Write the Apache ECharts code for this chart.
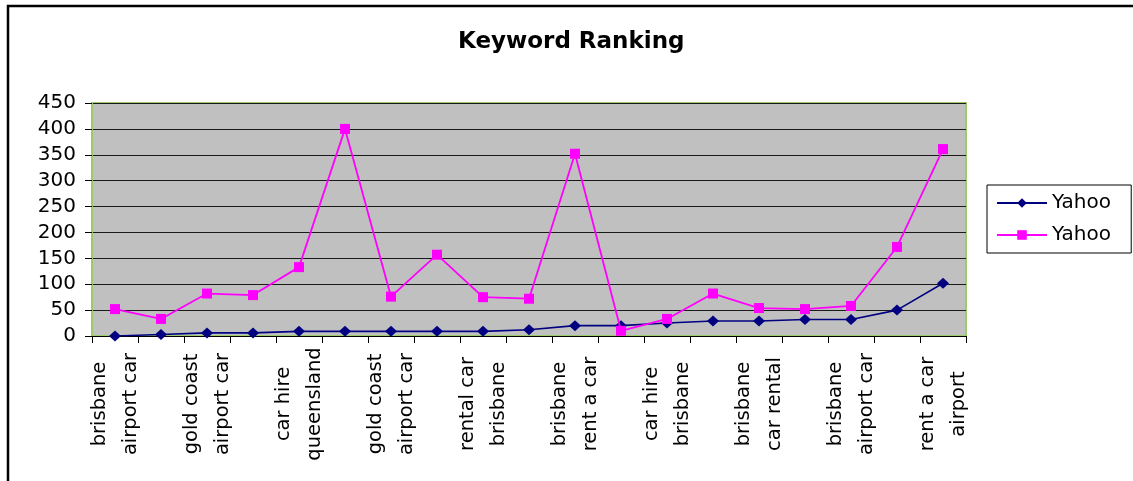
<!DOCTYPE html>
<html>
<head>
<meta charset="utf-8">
<title>Keyword Ranking</title>
<script src="https://cdn.jsdelivr.net/npm/echarts@6/dist/echarts.min.js"></script>
<style>
  html, body { margin: 0; padding: 0; background: #fff; }
  #chart { width: 1133px; height: 481px; }
</style>
</head>
<body>
<div id="chart"></div>
<script>
// keywords (only every other one is printed on the axis)
var keywords = [
  "brisbane\nairport car", "car rental\nairport", "gold coast\nairport car", "car hire\nbrisbane airport",
  "car hire\nqueensland", "hire car\nbrisbane", "gold coast\nairport car", "car hire\ngold coast",
  "rental car\nbrisbane", "car rental\nqueensland", "brisbane\nrent a car", "hire car\nairport",
  "car hire\nbrisbane", "rental cars\nbrisbane", "brisbane\ncar rental", "car hire\nairport",
  "brisbane\nairport car", "airport\ncar rental", "rent a car\nairport"
];
var seriesNames = ["Yahoo", "Yahoo "];
var yahooA = [0, 3, 6, 6, 9, 9, 9, 9, 9, 12, 20, 20, 25, 29, 29, 32, 32, 50, 102];
var yahooB = [52, 33, 82, 79, 133, 400, 76, 157, 75, 72, 352, 10, 33, 82, 54, 52, 58, 172, 361];
var yTicks = { min: 0, max: 450, step: 50 };

var chart = echarts.init(document.getElementById("chart"));
var font = "DejaVu Sans";

var option = {
  animation: false,
  backgroundColor: "#fff",
  title: {
    text: "Keyword Ranking",
    left: 453,
    top: 26,
    textStyle: { fontFamily: font, fontSize: 23, fontWeight: "bold", color: "#000" }
  },
  grid: {
    left: 92,
    right: 167,
    top: 103,
    bottom: 145,
    show: true,
    backgroundColor: "#C0C0C0",
    borderColor: "#9CC96B",
    borderWidth: 2
  },
  legend: {
    orient: "vertical",
    left: 987,
    top: 185,
    padding: [8, 14, 8, 9],
    itemWidth: 50,
    itemHeight: 12,
    itemGap: 12,
    backgroundColor: "#fff",
    borderColor: "#000",
    borderWidth: 1,
    borderRadius: 0,
    textStyle: { fontFamily: font, fontSize: 20, color: "#000" },
    data: seriesNames
  },
  xAxis: {
    type: "category",
    data: keywords,
    boundaryGap: true,
    axisLine: { lineStyle: { color: "#000", width: 1 } },
    axisTick: { show: true, interval: 0, length: 7, lineStyle: { color: "#000" } },
    axisLabel: {
      interval: 1,
      rotate: 90,
      align: "center",
      verticalAlign: "middle",
      margin: 68,
      lineHeight: 31,
      fontFamily: font,
      fontSize: 19.5,
      color: "#000"
    },
    splitLine: { show: false }
  },
  yAxis: {
    type: "value",
    min: yTicks.min,
    max: yTicks.max,
    interval: yTicks.step,
    axisLine: { show: true, lineStyle: { color: "#9CC96B", width: 2 } },
    axisTick: { show: true, length: 7, lineStyle: { color: "#000" } },
    axisLabel: { margin: 16, fontFamily: font, fontSize: 20, color: "#000" },
    splitLine: { lineStyle: { color: "#1a1a1a", width: 1 } }
  },
  series: [
    {
      name: seriesNames[0],
      type: "line",
      data: yahooA,
      symbol: "diamond",
      symbolSize: [12, 11],
      showAllSymbol: true,
      itemStyle: { color: "#000080" },
      lineStyle: { color: "#000080", width: 1.6 },
      z: 3
    },
    {
      name: seriesNames[1],
      type: "line",
      data: yahooB,
      symbol: "rect",
      symbolSize: 10,
      showAllSymbol: true,
      itemStyle: { color: "#FF00FF" },
      lineStyle: { color: "#FF00FF", width: 1.8 },
      z: 4
    }
  ],
  graphic: [
    {
      type: "polyline",
      shape: { points: [[8, 490], [8, 6], [1145, 6]] },
      style: { stroke: "#000", lineWidth: 2.5, fill: null },
      silent: true
    }
  ]
};

chart.setOption(option);
</script>
</body>
</html>
